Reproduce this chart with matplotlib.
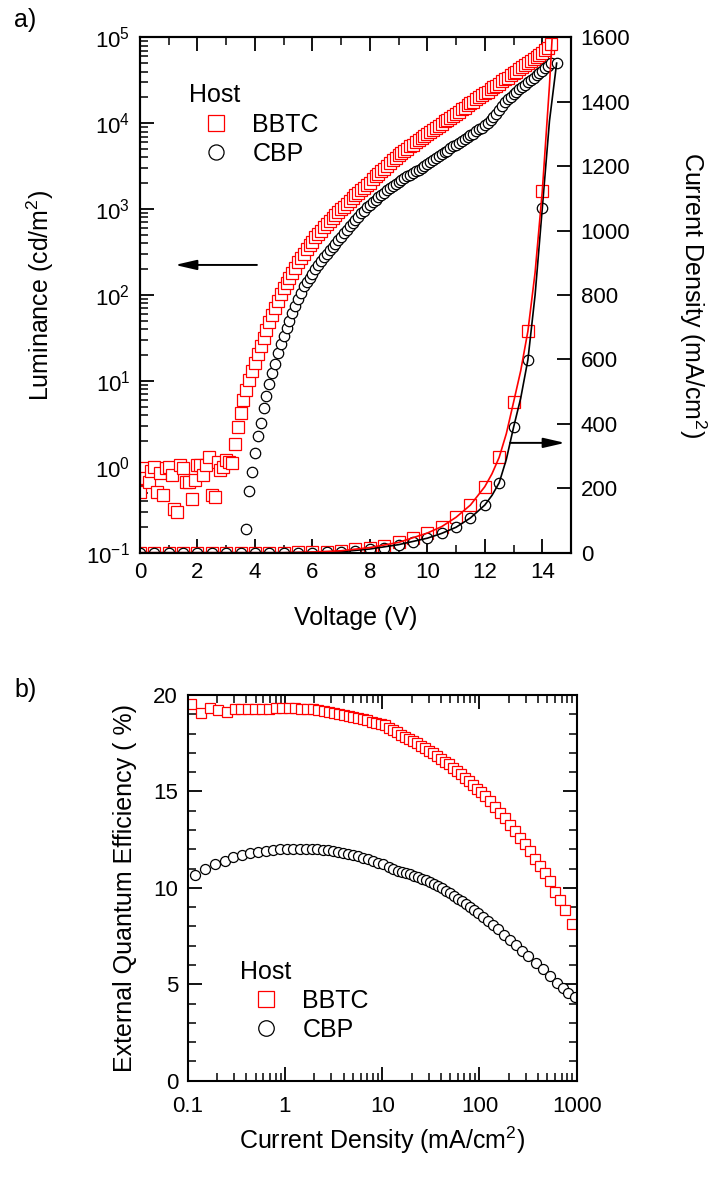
import matplotlib
matplotlib.use("Agg")
import matplotlib.pyplot as plt
from matplotlib.ticker import MultipleLocator, LogLocator, FuncFormatter, NullFormatter

plt.rcParams['font.family'] = ['Liberation Sans', 'DejaVu Sans']
plt.rcParams['mathtext.fontset'] = 'custom'
plt.rcParams['mathtext.rm'] = 'Liberation Sans'
plt.rcParams['mathtext.it'] = 'Liberation Sans:italic'
plt.rcParams['font.size'] = 16

RED = '#ff0000'
LABEL_FS = 18

# ---- a) luminance vs voltage ----
lum_v_bbtc = [
    0.0, 0.1, 0.2, 0.3, 0.4, 0.5, 0.6, 0.7, 0.8, 0.9,
    1.0, 1.1, 1.2, 1.3, 1.4, 1.5, 1.6, 1.7, 1.8, 1.9,
    2.0, 2.1, 2.2, 2.3, 2.4, 2.5, 2.6, 2.7, 2.8, 2.9,
    3.0, 3.1, 3.2, 3.3, 3.4, 3.5, 3.6, 3.7, 3.8, 3.9,
    4.0, 4.1, 4.2, 4.3, 4.4, 4.5, 4.6, 4.7, 4.8, 4.9,
    5.0, 5.1, 5.2, 5.3, 5.4, 5.5, 5.6, 5.7, 5.8, 5.9,
    6.0, 6.1, 6.2, 6.3, 6.4, 6.5, 6.6, 6.7, 6.8, 6.9,
    7.0, 7.1, 7.2, 7.3, 7.4, 7.5, 7.6, 7.7, 7.8, 7.9,
    8.0, 8.1, 8.2, 8.3, 8.4, 8.5, 8.6, 8.7, 8.8, 8.9,
    9.0, 9.1, 9.2, 9.3, 9.4, 9.5, 9.6, 9.7, 9.8, 9.9,
    10.0, 10.1, 10.2, 10.3, 10.4, 10.5, 10.6, 10.7, 10.8, 10.9,
    11.0, 11.1, 11.2, 11.3, 11.4, 11.5, 11.6, 11.7, 11.8, 11.9,
    12.0, 12.1, 12.2, 12.3, 12.4, 12.5, 12.6, 12.7, 12.8, 12.9,
    13.0, 13.1, 13.2, 13.3, 13.4, 13.5, 13.6, 13.7, 13.8, 13.9,
    14.0, 14.1, 14.2, 14.3,
]
lum_bbtc = [
    0.51, 0.96, 0.75, 0.67, 0.90, 1.00, 0.51, 0.85, 0.47, 0.96,
    1.00, 0.80, 0.32, 0.30, 1.05, 0.96, 0.67, 0.67, 0.42, 0.70,
    1.05, 1.05, 0.81, 1.05, 1.31, 0.47, 0.45, 1.15, 0.92, 1.00,
    1.20, 1.15, 1.10, 1.86, 2.88, 4.27, 6.03, 7.94, 10.2, 12.9,
    16.2, 20.4, 25.7, 31.6, 38.9, 47.9, 58.9, 70.8, 85.1, 102,
    120, 138, 158, 182, 209, 240, 269, 302, 339, 380,
    417, 468, 513, 562, 617, 676, 724, 794, 851, 933,
    1000, 1070, 1150, 1230, 1350, 1450, 1550, 1660, 1780, 1910,
    2040, 2240, 2400, 2570, 2750, 2950, 3160, 3470, 3720, 3980,
    4270, 4470, 4790, 5010, 5370, 5620, 6030, 6310, 6760, 7080,
    7590, 7940, 8320, 8910, 9330, 9770, 10500, 11000, 11500, 12300,
    12900, 13500, 14500, 15100, 16200, 17000, 17800, 19100, 20000, 21400,
    22400, 23400, 25100, 26300, 27500, 28800, 30900, 32400, 33900, 36300,
    38000, 39800, 42700, 44700, 47900, 50100, 52500, 56200, 58900, 63100,
    66100, 70800, 75900, 83200,
]
lum_v_cbp = [
    3.7, 3.8, 3.9,
    4.0, 4.1, 4.2, 4.3, 4.4, 4.5, 4.6, 4.7, 4.8, 4.9,
    5.0, 5.1, 5.2, 5.3, 5.4, 5.5, 5.6, 5.7, 5.8, 5.9,
    6.0, 6.1, 6.2, 6.3, 6.4, 6.5, 6.6, 6.7, 6.8, 6.9,
    7.0, 7.1, 7.2, 7.3, 7.4, 7.5, 7.6, 7.7, 7.8, 7.9,
    8.0, 8.1, 8.2, 8.3, 8.4, 8.5, 8.6, 8.7, 8.8, 8.9,
    9.0, 9.1, 9.2, 9.3, 9.4, 9.5, 9.6, 9.7, 9.8, 9.9,
    10.0, 10.1, 10.2, 10.3, 10.4, 10.5, 10.6, 10.7, 10.8, 10.9,
    11.0, 11.1, 11.2, 11.3, 11.4, 11.5, 11.6, 11.7, 11.8, 11.9,
    12.0, 12.1, 12.2, 12.3, 12.4, 12.5, 12.6, 12.7, 12.8, 12.9,
    13.0, 13.1, 13.2, 13.3, 13.4, 13.5, 13.6, 13.7, 13.8, 13.9,
    14.0, 14.1, 14.2, 14.3,
]
lum_cbp = [
    0.191, 0.525, 0.871,
    1.45, 2.29, 3.24, 4.79, 6.61, 9.12, 12.3, 15.8, 20.9, 26.9,
    33.1, 41.7, 50.1, 61.7, 74.1, 89.1, 107, 126, 141, 158,
    178, 200, 224, 251, 275, 302, 331, 363, 398, 437,
    479, 525, 575, 631, 692, 741, 813, 891, 955, 1050,
    1120, 1200, 1290, 1380, 1450, 1550, 1660, 1740, 1860, 1950,
    2090, 2190, 2290, 2400, 2510, 2630, 2750, 2880, 3020, 3160,
    3390, 3550, 3720, 3980, 4170, 4370, 4570, 4790, 5130, 5370,
    5620, 5890, 6170, 6610, 6920, 7240, 7590, 8130, 8510, 8910,
    9550, 10200, 11000, 11700, 12900, 14100, 15800, 17800, 19100, 20400,
    21900, 23400, 25100, 26300, 28200, 30200, 31600, 33900, 36300, 38000,
    40700, 43700, 46800, 50100,
]

# current density markers (every 0.5 V)
jv_v = [0.0, 0.5, 1.0, 1.5, 2.0, 2.5, 3.0, 3.5, 4.0, 4.5,
        5.0, 5.5, 6.0, 6.5, 7.0, 7.5, 8.0, 8.5, 9.0, 9.5,
        10.0, 10.5, 11.0, 11.5, 12.0, 12.5, 13.0, 13.5, 14.0, 14.5]
jv_bbtc = [0, 0, 0, 0, 0, 0, 0, 0, 0, 0,
           0, 1, 2, 3, 6, 10, 16, 22, 32, 45,
           61, 81, 110, 148, 205, 296, 467, 688, 1122, 1750]
jv_cbp = [0, 0, 0, 0, 0, 0, 0, 0, 0, 0,
          0, 0, 0, 1, 3, 6, 11.5, 16, 25, 32,
          45, 60, 79, 108, 148, 217, 389, 599, 1069, 1520]
# current density curves
jv_line_v = [0.0, 1.0, 2.0, 3.0, 4.0, 5.0, 6.0, 7.0, 8.0, 9.0, 10.0, 10.5,
             11.0, 11.5, 12.0, 12.25, 12.5, 12.75, 13.0, 13.25, 13.5, 13.75,
             14.0, 14.25, 14.5]
jv_line_bbtc = [0, 0, 0, 0, 0, 0, 2, 6, 16, 32, 61, 81,
                110, 148, 205, 245, 296, 370, 467, 565, 688, 870,
                1122, 1450, 1850]
jv_line_cbp = [0, 0, 0, 0, 0, 0, 1, 3, 11.5, 25, 45, 60,
               79, 108, 148, 178, 217, 290, 389, 480, 599, 800,
               1069, 1340, 1520]

# ---- b) EQE vs current density ----
eqe_j_bbtc = [
    0.108, 0.136, 0.170, 0.206, 0.252, 0.306, 0.353, 0.420, 0.492, 0.577,
    0.685, 0.803, 0.940, 1.10, 1.27, 1.46, 1.67, 1.93, 2.20, 2.54,
    2.86, 3.22, 3.62, 4.05, 4.56, 5.05, 5.68, 6.30, 7.03, 7.80,
    8.63, 9.72, 10.7, 11.7, 12.9, 14.2, 15.6, 17.1, 18.9, 20.7,
    22.8, 25.1, 27.5, 30.3, 33.3, 36.6, 40.2, 44.2, 48.6, 53.4,
    58.8, 64.6, 71.0, 78.1, 85.8, 94.4, 104, 114, 128, 145,
    163, 183, 206, 232, 261, 294, 331, 373, 419, 472,
    531, 598, 673, 758, 889,
]
eqe_bbtc = [
    19.52, 19.09, 19.35, 19.23, 19.14, 19.26, 19.26, 19.28, 19.30, 19.30,
    19.28, 19.31, 19.31, 19.31, 19.31, 19.30, 19.28, 19.26, 19.23, 19.19,
    19.14, 19.09, 19.02, 18.97, 18.92, 18.85, 18.80, 18.75, 18.68, 18.61,
    18.56, 18.50, 18.42, 18.30, 18.18, 18.06, 17.95, 17.84, 17.73, 17.62,
    17.50, 17.38, 17.25, 17.12, 16.99, 16.85, 16.70, 16.55, 16.40, 16.24,
    16.07, 15.90, 15.72, 15.54, 15.35, 15.15, 14.95, 14.75, 14.48, 14.20,
    13.90, 13.60, 13.28, 12.95, 12.60, 12.25, 11.90, 11.52, 11.14, 10.75,
    10.35, 9.80, 9.35, 8.85, 8.10,
]
eqe_j_cbp = [
    0.119, 0.151, 0.191, 0.242, 0.294, 0.359, 0.437, 0.532, 0.638, 0.759,
    0.889, 1.04, 1.22, 1.43, 1.65, 1.88, 2.15, 2.44, 2.79, 3.14,
    3.54, 3.98, 4.48, 5.04, 5.68, 6.39, 7.19, 8.10, 9.12, 10.3,
    11.6, 13.0, 14.6, 16.1, 17.7, 19.4, 21.3, 23.4, 25.8, 28.3,
    31.1, 34.2, 37.6, 41.3, 45.4, 49.9, 54.8, 60.2, 66.2, 72.7,
    79.9, 87.8, 96.5, 109, 122, 138, 155, 179, 206, 238,
    274, 316, 377, 446, 527, 620, 715, 820, 970,
]
eqe_cbp = [
    10.67, 10.96, 11.22, 11.41, 11.59, 11.71, 11.79, 11.85, 11.91, 11.97,
    12.00, 12.02, 12.02, 12.03, 12.02, 12.02, 12.00, 11.98, 11.95, 11.91,
    11.88, 11.83, 11.77, 11.71, 11.64, 11.57, 11.48, 11.40, 11.31, 11.22,
    11.10, 11.00, 10.88, 10.83, 10.77, 10.71, 10.64, 10.56, 10.48, 10.39,
    10.30, 10.20, 10.10, 9.98, 9.85, 9.72, 9.58, 9.44, 9.30, 9.15,
    9.00, 8.85, 8.70, 8.50, 8.30, 8.08, 7.85, 7.58, 7.30, 7.03,
    6.75, 6.45, 6.10, 5.77, 5.42, 5.08, 4.80, 4.55, 4.35,
]

MAJ = dict(length=10, width=1.3)
MIN = dict(length=5.5, width=1.1)

fig = plt.figure(figsize=(7.16, 11.82), dpi=100)

# ================= panel a =================
ax1 = fig.add_axes([0.1955, 0.5324, 0.602, 0.436])
ax1r = ax1.twinx()

ax1.plot(lum_v_bbtc, lum_bbtc, 's', ms=8, mfc='white', mec=RED, mew=0.9,
         ls='none', label='BBTC')
ax1.plot(lum_v_cbp, lum_cbp, 'o', ms=7.5, mfc='white', mec='black', mew=0.9,
         ls='none', label='CBP')
ax1.set_yscale('log')
ax1.set_xlim(0, 15)
ax1.set_ylim(0.1, 1e5)
ax1.xaxis.set_major_locator(MultipleLocator(2))
ax1.xaxis.set_minor_locator(MultipleLocator(1))
ax1.yaxis.set_major_locator(LogLocator(base=10, numticks=12))
ax1.yaxis.set_minor_locator(LogLocator(base=10, subs=range(2, 10), numticks=12))
ax1.yaxis.set_minor_formatter(NullFormatter())
ax1.tick_params(which='both', direction='in', top=True, right=False)
ax1.tick_params(which='major', pad=7, **MAJ)
ax1.tick_params(which='minor', **MIN)

ax1r.plot(jv_v, jv_bbtc, 's', ms=8, mfc='white', mec=RED, mew=0.9, ls='none')
ax1r.plot(jv_v, jv_cbp, 'o', ms=7.5, mfc='white', mec='black', mew=0.9, ls='none')
ax1r.plot(jv_line_v, jv_line_cbp, '-', color='black', lw=1.2)
ax1r.plot(jv_line_v, jv_line_bbtc, '-', color=RED, lw=1.2)
ax1r.set_ylim(0, 1600)
ax1r.yaxis.set_major_locator(MultipleLocator(200))
ax1r.tick_params(which='both', direction='in', pad=7, **MAJ)

for a in (ax1, ax1r):
    for s in a.spines.values():
        s.set_linewidth(1.5)

ax1.set_xlabel('Voltage (V)', fontsize=LABEL_FS)
ax1.xaxis.set_label_coords(0.5, -0.104)
ax1.set_ylabel('Luminance (cd/m$^2$)', fontsize=LABEL_FS)
ax1.yaxis.set_label_coords(-0.195, 0.5)
ax1r.set_ylabel('Current Density (mA/cm$^2$)', fontsize=LABEL_FS,
                rotation=270, va='bottom')
ax1r.yaxis.set_label_coords(1.245, 0.5)

ax1.annotate('', xy=(1.22, 224), xytext=(4.07, 224),
             arrowprops=dict(arrowstyle='-|>,head_length=1.3,head_width=0.3',
                             color='black', lw=1.4, mutation_scale=10,
                             shrinkA=0, shrinkB=0))
ax1r.annotate('', xy=(14.79, 341), xytext=(12.88, 341),
              arrowprops=dict(arrowstyle='-|>,head_length=1.3,head_width=0.3',
                              color='black', lw=1.4, mutation_scale=10,
                              shrinkA=0, shrinkB=0))

leg1 = ax1.legend(loc='upper left', bbox_to_anchor=(0.113, 0.911), frameon=False,
                  title='Host', title_fontsize=LABEL_FS, fontsize=LABEL_FS,
                  markerscale=1.45, handlelength=2.15, handletextpad=0.4,
                  labelspacing=0.22, borderpad=0, borderaxespad=0)
leg1._legend_box.align = 'left'

# ================= panel b =================
ax2 = fig.add_axes([0.2622, 0.0857, 0.5433, 0.3263])
ax2.plot(eqe_j_bbtc, eqe_bbtc, 's', ms=7.5, mfc='white', mec=RED, mew=0.9,
         ls='none', label='BBTC')
ax2.plot(eqe_j_cbp, eqe_cbp, 'o', ms=7.2, mfc='white', mec='black', mew=0.9,
         ls='none', label='CBP')
ax2.set_xscale('log')
ax2.set_xlim(0.1, 1000)
ax2.set_ylim(0, 20)
ax2.xaxis.set_major_locator(LogLocator(base=10, numticks=10))
ax2.xaxis.set_minor_locator(LogLocator(base=10, subs=range(2, 10), numticks=10))
ax2.xaxis.set_major_formatter(FuncFormatter(lambda v, _: f'{v:g}'))
ax2.xaxis.set_minor_formatter(NullFormatter())
ax2.yaxis.set_major_locator(MultipleLocator(5))
ax2.yaxis.set_minor_locator(MultipleLocator(1))
ax2.tick_params(which='both', direction='in', top=True, right=True)
ax2.tick_params(which='major', **MAJ)
ax2.tick_params(which='minor', **MIN)
ax2.tick_params(axis='x', which='major', pad=11)
ax2.tick_params(axis='y', which='major', pad=7)
for s in ax2.spines.values():
    s.set_linewidth(1.5)

ax2.set_xlabel('Current Density (mA/cm$^2$)', fontsize=LABEL_FS)
ax2.xaxis.set_label_coords(0.5, -0.115)
ax2.set_ylabel('External Quantum Efficiency ( %)', fontsize=LABEL_FS)
ax2.yaxis.set_label_coords(-0.13, 0.5)

leg2 = ax2.legend(loc='upper left', bbox_to_anchor=(0.134, 0.312), frameon=False,
                  title='Host', title_fontsize=LABEL_FS, fontsize=LABEL_FS,
                  markerscale=1.55, handlelength=2.1, handletextpad=0.4,
                  labelspacing=0.19, borderpad=0, borderaxespad=0)
leg2._legend_box.align = 'left'

fig.text(0.02, 1 - 20 / 1182, 'a)', fontsize=LABEL_FS, va='center')
fig.text(0.02, 1 - 690 / 1182, 'b)', fontsize=LABEL_FS, va='center')

fig.savefig('out.png', dpi=100)
